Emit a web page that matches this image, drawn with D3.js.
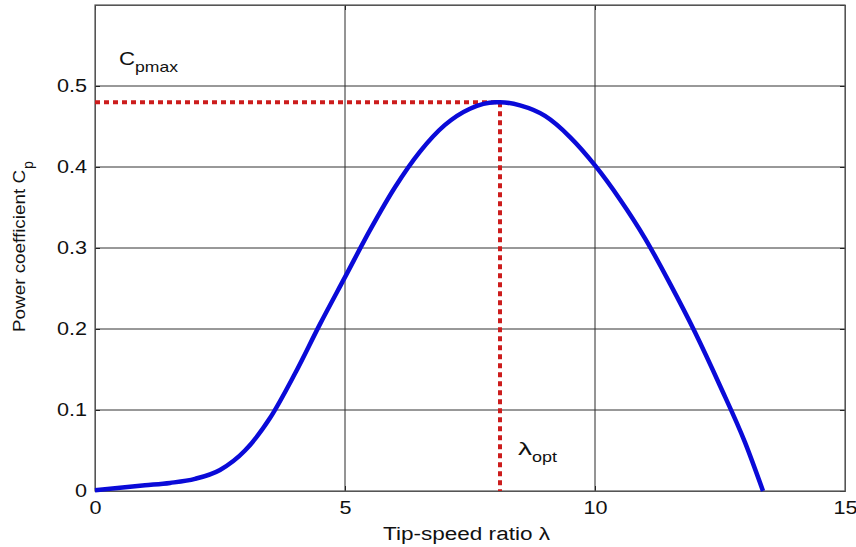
<!DOCTYPE html>
<html><head><meta charset="utf-8">
<script src="https://cdn.jsdelivr.net/npm/d3@7"></script>
<style>body{margin:0;background:#fff}svg{display:block;font-family:"Liberation Sans",Arial,sans-serif}</style>
</head><body>
<svg id="c" width="856" height="547"></svg>
<script>
const lambda = [0, 0.5, 1, 1.5, 2, 2.5, 3, 3.5, 4, 4.5, 5, 5.5, 6, 6.5, 7, 7.5, 8, 8.1, 8.5, 9, 9.5, 10, 10.5, 11, 11.5, 12, 12.5, 13, 13.36];
const cp = [0.001, 0.004, 0.007, 0.010, 0.015, 0.026, 0.050, 0.090, 0.145, 0.206, 0.264, 0.322, 0.375, 0.419, 0.452, 0.472, 0.480, 0.480, 0.476, 0.463, 0.437, 0.402, 0.360, 0.312, 0.256, 0.196, 0.130, 0.060, 0];
const xTicks = [0, 5, 10, 15];
const yTicks = [0, 0.1, 0.2, 0.3, 0.4, 0.5];
const cpMax = 0.48, lambdaOpt = 8.1;

const svg = d3.select("#c");
const L = 95, R = 845, T = 5, B = 491;
const x = d3.scaleLinear().domain([0, 15]).range([L, R]);
const y = d3.scaleLinear().domain([0, 0.6]).range([B, T]);
const FF = '"Liberation Sans",Arial,sans-serif';

function stretch(sel, f) {
  sel.each(function () {
    const w = this.getComputedTextLength();
    d3.select(this).attr("textLength", w * f).attr("lengthAdjust", "spacingAndGlyphs");
  });
}

// grid
svg.selectAll(".gx").data(xTicks.slice(1, -1)).enter().append("line")
  .attr("x1", d => x(d)).attr("x2", d => x(d)).attr("y1", T).attr("y2", B)
  .attr("stroke", "#2a2a2a").attr("stroke-width", 1);
svg.selectAll(".gy").data(yTicks.slice(1)).enter().append("line")
  .attr("x1", L).attr("x2", R).attr("y1", d => y(d)).attr("y2", d => y(d))
  .attr("stroke", "#333").attr("stroke-width", 1);

// axes
svg.append("g").attr("transform", `translate(0,${B})`)
  .call(d3.axisBottom(x).tickValues(xTicks).tickSize(-5).tickPadding(10).tickFormat(d3.format("d")));
svg.append("g").attr("transform", `translate(${L},0)`)
  .call(d3.axisLeft(y).tickValues(yTicks).tickSize(-5).tickPadding(8).tickFormat(d => d === 0 ? "0" : d3.format(".1f")(d)));
svg.append("g").attr("transform", `translate(0,${T})`)
  .call(d3.axisTop(x).tickValues(xTicks).tickSize(-5).tickFormat(""));
svg.append("g").attr("transform", `translate(${R},0)`)
  .call(d3.axisRight(y).tickValues(yTicks.concat([0.6])).tickSize(-5).tickFormat(""));
svg.selectAll(".domain").attr("stroke", "#555");
svg.selectAll(".tick line").attr("stroke", "#222");
svg.selectAll(".tick text").attr("font-size", "18px").attr("fill", "#111").attr("font-family", FF);
stretch(svg.selectAll(".tick text"), 1.2);
// frame
svg.append("rect").attr("x", L).attr("y", T).attr("width", R - L).attr("height", B - T)
  .attr("fill", "none").attr("stroke", "#555").attr("stroke-width", 1.2);

// red dotted lines
svg.append("line").attr("x1", x(0)).attr("x2", x(lambdaOpt)).attr("y1", y(cpMax)).attr("y2", y(cpMax))
  .attr("stroke", "#cc1c1c").attr("stroke-width", 4).attr("stroke-dasharray", "5,4");
svg.append("line").attr("x1", x(lambdaOpt)).attr("x2", x(lambdaOpt)).attr("y1", y(cpMax)).attr("y2", y(0))
  .attr("stroke", "#cc1c1c").attr("stroke-width", 4).attr("stroke-dasharray", "5,4");

// curve
const line = d3.line().x((d, i) => x(lambda[i])).y(d => y(d)).curve(d3.curveMonotoneX);
svg.append("path").datum(cp).attr("d", line).attr("fill", "none")
  .attr("stroke", "#0a0ad8").attr("stroke-width", 4.5).attr("stroke-linejoin", "round");

// annotations
function subText(x0, y0, main, sub, fMain, fSub, wMain, wSub, dy) {
  svg.append("text").attr("x", x0).attr("y", y0).attr("font-size", fMain).attr("fill", "#111").text(main)
    .attr("textLength", wMain).attr("lengthAdjust", "spacingAndGlyphs");
  svg.append("text").attr("x", x0 + wMain).attr("y", y0 + dy).attr("font-size", fSub).attr("fill", "#111").text(sub)
    .attr("textLength", wSub).attr("lengthAdjust", "spacingAndGlyphs");
}
subText(119, 65, "C", "pmax", "18px", "15px", 16, 43, 7);
subText(518, 455, "λ", "opt", "18px", "15px", 14, 25, 7);

// axis labels
svg.append("text").attr("x", 383).attr("y", 540)
  .attr("font-size", "18px").attr("fill", "#111").text("Tip-speed ratio λ")
  .attr("textLength", 167).attr("lengthAdjust", "spacingAndGlyphs");
const yg = svg.append("g").attr("transform", "translate(25,332) rotate(-90)");
yg.append("text").attr("x", 0).attr("y", 0).attr("font-size", "17px").attr("fill", "#111")
  .text("Power coefficient C").attr("textLength", 162).attr("lengthAdjust", "spacingAndGlyphs");
yg.append("text").attr("x", 163).attr("y", 8).attr("font-size", "14px").attr("fill", "#111")
  .text("p");
</script>
</body></html>
